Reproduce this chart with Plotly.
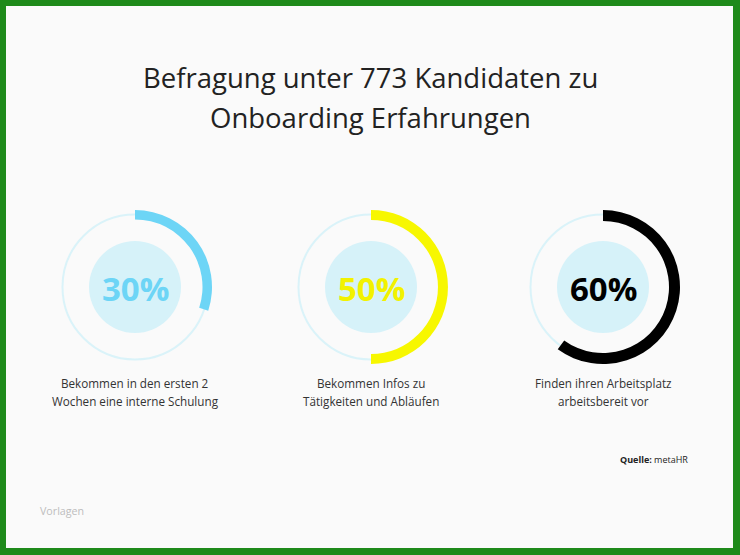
import plotly.graph_objects as go

W, H = 740, 555

# ---- data ----
title_lines = ["Befragung unter 773 Kandidaten zu", "Onboarding Erfahrungen"]
percent_values = [30, 50, 60]
label_lines = [
    ["Bekommen in den ersten 2", "Wochen eine interne Schulung"],
    ["Bekommen Infos zu", "Tätigkeiten und Abläufen"],
    ["Finden ihren Arbeitsplatz", "arbeitsbereit vor"],
]
arc_colors = ["#6dd5f6", "#f7f700", "#000000"]
text_colors = ["#6dd5f6", "#f2f200", "#000000"]
source_label = "Quelle:"
source_name = "metaHR"
watermark = "Vorlagen"

# ---- layout helpers (pixel -> paper) ----
centers_x = [135, 371, 603]
center_y = 287
r_outer = 77
arc_width = [9.5, 10, 11]
track_r = 72.5
disc_r = 46


def px(x):
    return x / W


def py(y):
    return 1 - y / H


fig = go.Figure()

shapes = [
    dict(type="rect", xref="paper", yref="paper", x0=px(6), x1=px(733), y0=py(548), y1=py(6),
         fillcolor="#fafafa", line=dict(width=0), layer="below"),
]

for i, v in enumerate(percent_values):
    cx = centers_x[i]
    shapes.append(dict(type="circle", xref="paper", yref="paper",
                       x0=px(cx - track_r), x1=px(cx + track_r),
                       y0=py(center_y + track_r), y1=py(center_y - track_r),
                       line=dict(color="#daf3f9", width=2), fillcolor="rgba(0,0,0,0)", layer="below"))
    shapes.append(dict(type="circle", xref="paper", yref="paper",
                       x0=px(cx - disc_r), x1=px(cx + disc_r),
                       y0=py(center_y + disc_r), y1=py(center_y - disc_r),
                       line=dict(width=0), fillcolor="#d6f2f9", layer="below"))
    fig.add_trace(go.Pie(
        values=[v, 100 - v],
        labels=["ja", "rest"],
        sort=False,
        direction="clockwise",
        rotation=0,
        hole=(r_outer - arc_width[i]) / r_outer,
        marker=dict(colors=[arc_colors[i], "rgba(0,0,0,0)"], line=dict(width=0)),
        textinfo="none",
        hoverinfo="skip",
        showlegend=False,
        domain=dict(x=[px(cx - r_outer), px(cx + r_outer)],
                    y=[py(center_y + r_outer), py(center_y - r_outer)]),
    ))

annotations = []
for j, line in enumerate(title_lines):
    annotations.append(dict(text=line, x=px(370), y=py(77 + 40 * j), xref="paper", yref="paper",
                            showarrow=False, xanchor="center", yanchor="middle",
                            font=dict(family="Open Sans", size=27.5, color="#222222")))

for i, v in enumerate(percent_values):
    cx = centers_x[i]
    annotations.append(dict(text=f"<b>{v}%</b>", x=px(cx), y=py(center_y + 1), xref="paper", yref="paper",
                            showarrow=False, xanchor="center", yanchor="middle",
                            font=dict(family="Open Sans", size=33, color=text_colors[i])))
    for j, line in enumerate(label_lines[i]):
        annotations.append(dict(text=line, x=px(cx), y=py(383 + 18 * j), xref="paper", yref="paper",
                                showarrow=False, xanchor="center", yanchor="middle",
                                font=dict(family="Open Sans", size=11.7, color="#333333")))

annotations.append(dict(text=f"<b>{source_label}</b> {source_name}", x=px(690), y=py(459),
                        xref="paper", yref="paper", showarrow=False, xanchor="right", yanchor="middle",
                        font=dict(family="Open Sans", size=9, color="#222222")))
annotations.append(dict(text=watermark, x=px(38), y=py(511), xref="paper", yref="paper",
                        showarrow=False, xanchor="left", yanchor="middle",
                        font=dict(family="Open Sans", size=10.7, color="#bdbdbd")))

fig.update_layout(
    width=W, height=H,
    margin=dict(l=0, r=0, t=0, b=0),
    paper_bgcolor="#1e8a1a",
    plot_bgcolor="rgba(0,0,0,0)",
    shapes=shapes,
    annotations=annotations,
)

fig.write_html("out.html", config={"displayModeBar": False},
               post_script="document.body.style.margin='0';document.body.style.overflow='hidden';")
